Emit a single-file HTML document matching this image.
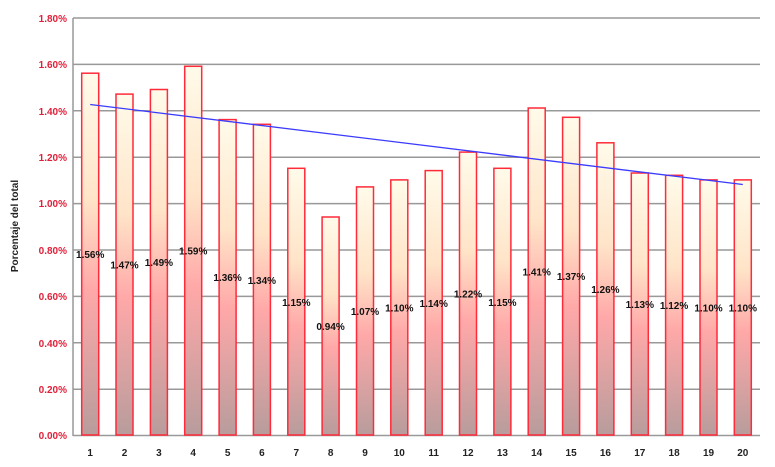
<!DOCTYPE html>
<html><head><meta charset="utf-8"><style>
html,body{margin:0;padding:0;background:#fff;width:775px;height:467px;overflow:hidden}
svg{display:block;font-family:"Liberation Sans",sans-serif}
.yl{fill:#e0203a;font-size:10px;font-weight:bold;text-anchor:end}
.xl{fill:#222;font-size:10px;font-weight:bold;text-anchor:middle}
.dl{fill:#111;font-size:10px;font-weight:bold;text-anchor:middle}
</style></head><body>
<svg width="775" height="467" viewBox="0 0 775 467">
<defs><linearGradient id="g" x1="0" y1="0" x2="0" y2="1">
<stop offset="0" stop-color="#fffbea"/><stop offset="0.35" stop-color="#ffe4c8"/>
<stop offset="0.6" stop-color="#ffa8a8"/><stop offset="1" stop-color="#b89c9c"/></linearGradient></defs>
<g stroke="#999" stroke-width="1.5">
<line x1="73" y1="18" x2="760" y2="18"/><line x1="73" y1="64.4" x2="760" y2="64.4"/>
<line x1="73" y1="110.8" x2="760" y2="110.8"/><line x1="73" y1="157.2" x2="760" y2="157.2"/>
<line x1="73" y1="203.6" x2="760" y2="203.6"/><line x1="73" y1="250" x2="760" y2="250"/>
<line x1="73" y1="296.4" x2="760" y2="296.4"/><line x1="73" y1="342.8" x2="760" y2="342.8"/>
<line x1="73" y1="389.2" x2="760" y2="389.2"/><line x1="73" y1="435.5" x2="760" y2="435.5"/>
<line x1="73" y1="18" x2="73" y2="436"/></g>
<g class="yl">
<text x="67" y="22">1.80%</text><text x="67" y="68">1.60%</text><text x="67" y="115">1.40%</text>
<text x="67" y="161">1.20%</text><text x="67" y="207">1.00%</text><text x="67" y="254">0.80%</text>
<text x="67" y="300">0.60%</text><text x="67" y="347">0.40%</text><text x="67" y="393">0.20%</text>
<text x="67" y="439">0.00%</text></g>
<text transform="translate(18,226) rotate(-90)" font-size="10" font-weight="bold" fill="#222" text-anchor="middle">Porcentaje del total</text>
<g fill="url(#g)" stroke="#ff2a3a" stroke-width="1.5">
<rect x="81.7" y="73.2" width="17" height="361.8"/><rect x="116" y="94.1" width="17" height="340.9"/>
<rect x="150.4" y="89.5" width="17" height="345.5"/><rect x="184.7" y="66.3" width="17" height="368.7"/>
<rect x="219.1" y="119.6" width="17" height="315.4"/><rect x="253.4" y="124.3" width="17" height="310.7"/>
<rect x="287.8" y="168.3" width="17" height="266.7"/><rect x="322.1" y="217" width="17" height="218"/>
<rect x="356.5" y="186.9" width="17" height="248.1"/><rect x="390.8" y="179.9" width="17" height="255.1"/>
<rect x="425.2" y="170.6" width="17" height="264.4"/><rect x="459.5" y="152.1" width="17" height="282.9"/>
<rect x="493.9" y="168.3" width="17" height="266.7"/><rect x="528.2" y="108" width="17" height="327"/>
<rect x="562.6" y="117.3" width="17" height="317.7"/><rect x="596.9" y="142.8" width="17" height="292.2"/>
<rect x="631.3" y="173" width="17" height="262"/><rect x="665.6" y="175.3" width="17" height="259.7"/>
<rect x="700" y="179.9" width="17" height="255.1"/><rect x="734.3" y="179.9" width="17" height="255.1"/></g>
<line x1="90.2" y1="104.5" x2="742.8" y2="184.5" stroke="#3b3bff" stroke-width="1.3"/>
<g class="dl">
<text x="90.2" y="258">1.56%</text><text x="124.5" y="268.5">1.47%</text><text x="158.9" y="266">1.49%</text>
<text x="193.2" y="254.6">1.59%</text><text x="227.6" y="281">1.36%</text><text x="261.9" y="284">1.34%</text>
<text x="296.3" y="306">1.15%</text><text x="330.6" y="330">0.94%</text><text x="365" y="315">1.07%</text>
<text x="399.3" y="311.5">1.10%</text><text x="433.7" y="307">1.14%</text><text x="468" y="297.5">1.22%</text>
<text x="502.4" y="306">1.15%</text><text x="536.7" y="275.5">1.41%</text><text x="571.1" y="280">1.37%</text>
<text x="605.4" y="293">1.26%</text><text x="639.8" y="308">1.13%</text><text x="674.1" y="309">1.12%</text>
<text x="708.5" y="311.5">1.10%</text><text x="742.8" y="311.5">1.10%</text></g>
<g class="xl">
<text x="90.2" y="456">1</text><text x="124.5" y="456">2</text><text x="158.9" y="456">3</text><text x="193.2" y="456">4</text>
<text x="227.6" y="456">5</text><text x="261.9" y="456">6</text><text x="296.3" y="456">7</text><text x="330.6" y="456">8</text>
<text x="365" y="456">9</text><text x="399.3" y="456">10</text><text x="433.7" y="456">11</text><text x="468" y="456">12</text>
<text x="502.4" y="456">13</text><text x="536.7" y="456">14</text><text x="571.1" y="456">15</text><text x="605.4" y="456">16</text>
<text x="639.8" y="456">17</text><text x="674.1" y="456">18</text><text x="708.5" y="456">19</text><text x="742.8" y="456">20</text></g>
</svg>
</body></html>
